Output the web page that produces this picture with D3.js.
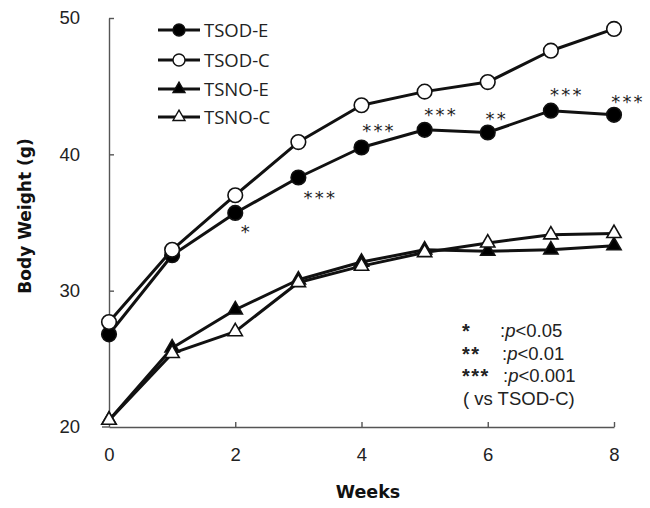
<!DOCTYPE html>
<html>
<head>
<meta charset="utf-8">
<script src="https://cdn.jsdelivr.net/npm/d3@7"></script>
<style>
  html, body { margin: 0; padding: 0; background: #fff; }
  svg { display: block; }
</style>
</head>
<body>
<svg id="chart" width="650" height="508"></svg>
<script>
// Body weight over 8 weeks for four groups
const weeks = [0, 1, 2, 3, 4, 5, 6, 7, 8];
const seriesNames = ["TSOD-E", "TSOD-C", "TSNO-E", "TSNO-C"];
const tsodE = [26.8, 32.6, 35.7, 38.3, 40.5, 41.8, 41.6, 43.2, 42.9];
const tsodC = [27.7, 33.0, 37.0, 40.9, 43.6, 44.6, 45.3, 47.6, 49.2];
const tsnoE = [20.5, 25.8, 28.6, 30.8, 32.1, 33.0, 32.9, 33.0, 33.3];
const tsnoC = [20.5, 25.4, 27.0, 30.6, 31.8, 32.8, 33.5, 34.1, 34.2];
const xTicks = [0, 2, 4, 6, 8];
const yTicks = [20, 30, 40, 50];
// significance marks for TSOD-E vs TSOD-C
const sigWeeks = [2, 3, 4, 5, 6, 7, 8];
const sigMarks = ["*", "***", "***", "***", "**", "***", "***"];
const sigNotes = [["*", "0.05"], ["**", "0.01"], ["***", "0.001"]];

const svg = d3.select("#chart");
const x = d3.scaleLinear().domain([0, 8]).range([109, 614]);
const y = d3.scaleLinear().domain([20, 50]).range([427, 18]);

const axisColor = "#555";
const tickFont = "'Liberation Sans', Arial, sans-serif";

// Y axis with inward ticks
const gy = svg.append("g")
  .attr("transform", `translate(${x(0)},0)`)
  .call(d3.axisLeft(y).tickValues(yTicks).tickSize(-5).tickSizeOuter(0).tickPadding(29));
gy.select(".domain").attr("stroke", axisColor).attr("stroke-width", 1.4);
gy.selectAll(".tick line").attr("stroke", axisColor).attr("stroke-width", 1.4)
  .filter(d => d === 20).remove();
gy.selectAll(".tick text").attr("font-family", tickFont).attr("font-size", 18.5).attr("fill", "#222");

// X axis with inward ticks
const gx = svg.append("g")
  .attr("transform", `translate(0,${y(20)})`)
  .call(d3.axisBottom(x).tickValues(xTicks).tickSize(-5).tickSizeOuter(0).tickPadding(21));
gx.select(".domain").attr("stroke", axisColor).attr("stroke-width", 1.4);
gx.selectAll(".tick line").attr("stroke", axisColor).attr("stroke-width", 1.4)
  .filter(d => d === 0).remove();
gx.selectAll(".tick text").attr("font-family", tickFont).attr("font-size", 18.5).attr("fill", "#222");
// short stub of the baseline left of the origin
svg.append("line")
  .attr("x1", x(0) - 7).attr("x2", x(0)).attr("y1", y(20)).attr("y2", y(20))
  .attr("stroke", axisColor).attr("stroke-width", 1.4);

// Axis titles
svg.append("text")
  .attr("x", 368).attr("y", 498)
  .attr("text-anchor", "middle")
  .attr("font-family", "'DejaVu Sans', sans-serif").attr("font-weight", "bold").attr("font-size", 17.5)
  .attr("fill", "#111")
  .text("Weeks");
svg.append("text")
  .attr("transform", "translate(31,216) rotate(-90)")
  .attr("text-anchor", "middle")
  .attr("font-family", "'DejaVu Sans', sans-serif").attr("font-weight", "bold").attr("font-size", 17)
  .attr("fill", "#111")
  .text("Body Weight (g)");

// Series definitions
const series = [
  { name: seriesNames[2], values: tsnoE, shape: "triangle", fill: "#000" },
  { name: seriesNames[3], values: tsnoC, shape: "triangle", fill: "#fff" },
  { name: seriesNames[0], values: tsodE, shape: "circle", fill: "#000" },
  { name: seriesNames[1], values: tsodC, shape: "circle", fill: "#fff" }
];

const line = d3.line().x((d, i) => x(weeks[i])).y(d => y(d));
const triPath = d3.symbol(d3.symbolTriangle, 88);
const triLegend = d3.symbol(d3.symbolTriangle, 62);

series.forEach(s => {
  const g = svg.append("g");
  g.append("path")
    .attr("d", line(s.values))
    .attr("fill", "none").attr("stroke", "#111").attr("stroke-width", 3)
    .attr("stroke-linejoin", "round");
  const pts = g.selectAll("g.pt").data(s.values).join("g")
    .attr("transform", (d, i) => `translate(${x(weeks[i])},${y(d)})`);
  if (s.shape === "circle") {
    pts.append("circle").attr("r", 7.3)
      .attr("fill", s.fill).attr("stroke", "#111").attr("stroke-width", 1.6);
  } else {
    pts.append("path").attr("d", triPath())
      .attr("fill", s.fill).attr("stroke", "#111").attr("stroke-width", 1.6);
  }
});

// Significance asterisks next to TSOD-E points (offsets of the glyph centre)
const sigOffsets = [[10, 15], [21, 15.5], [16.5, -21.5], [15.5, -19], [8, -18.5], [15, -20], [13, -17]];
svg.append("g").selectAll("text").data(sigWeeks).join("text")
  .attr("x", (w, i) => x(w) + sigOffsets[i][0] + 1)
  .attr("y", (w, i) => y(tsodE[w]) + sigOffsets[i][1] + 10.5)
  .attr("text-anchor", "middle")
  .attr("font-family", "'DejaVu Sans', sans-serif").attr("font-size", 18)
  .attr("letter-spacing", 2.2)
  .attr("fill", "#222")
  .text((w, i) => sigMarks[i]);

// Legend
const legendOrder = [
  { name: seriesNames[0], shape: "circle", fill: "#000" },
  { name: seriesNames[1], shape: "circle", fill: "#fff" },
  { name: seriesNames[2], shape: "triangle", fill: "#000" },
  { name: seriesNames[3], shape: "triangle", fill: "#fff" }
];
const legendY = [30, 60, 89, 117];
const lg = svg.append("g").selectAll("g").data(legendOrder).join("g")
  .attr("transform", (d, i) => `translate(0,${legendY[i]})`);
lg.append("line").attr("x1", 158).attr("x2", 200).attr("y1", 0).attr("y2", 0)
  .attr("stroke", "#111").attr("stroke-width", 3);
lg.each(function(d) {
  const g = d3.select(this);
  if (d.shape === "circle") {
    g.append("circle").attr("cx", 179).attr("cy", 0).attr("r", 6)
      .attr("fill", d.fill).attr("stroke", "#111").attr("stroke-width", 1.4);
  } else {
    g.append("path").attr("d", triLegend()).attr("transform", "translate(179,0)")
      .attr("fill", d.fill).attr("stroke", "#111").attr("stroke-width", 1.4);
  }
});
lg.append("text").attr("x", 204).attr("y", 6.5)
  .attr("font-family", "'Open Sans', sans-serif").attr("font-size", 18.5)
  .attr("fill", "#222")
  .text(d => d.name);

// Significance key
const noteFont = "'Liberation Sans', Arial, sans-serif";
const noteY = [337, 360, 382];
const noteX = [500, 502, 503];
const notes = svg.append("g").attr("font-family", noteFont).attr("font-size", 18.5).attr("fill", "#222");
sigNotes.forEach((n, i) => {
  notes.append("text").attr("x", 462).attr("y", noteY[i] + 1)
    .attr("font-size", 20).attr("font-weight", "bold").attr("letter-spacing", 1.5).text(n[0]);
  const t = notes.append("text").attr("x", noteX[i]).attr("y", noteY[i]);
  t.append("tspan").text(":");
  t.append("tspan").attr("font-style", "italic").text("p");
  t.append("tspan").text("<" + n[1]);
});
notes.append("text").attr("x", 463).attr("y", 405).text("( vs TSOD-C)");
</script>
</body>
</html>
